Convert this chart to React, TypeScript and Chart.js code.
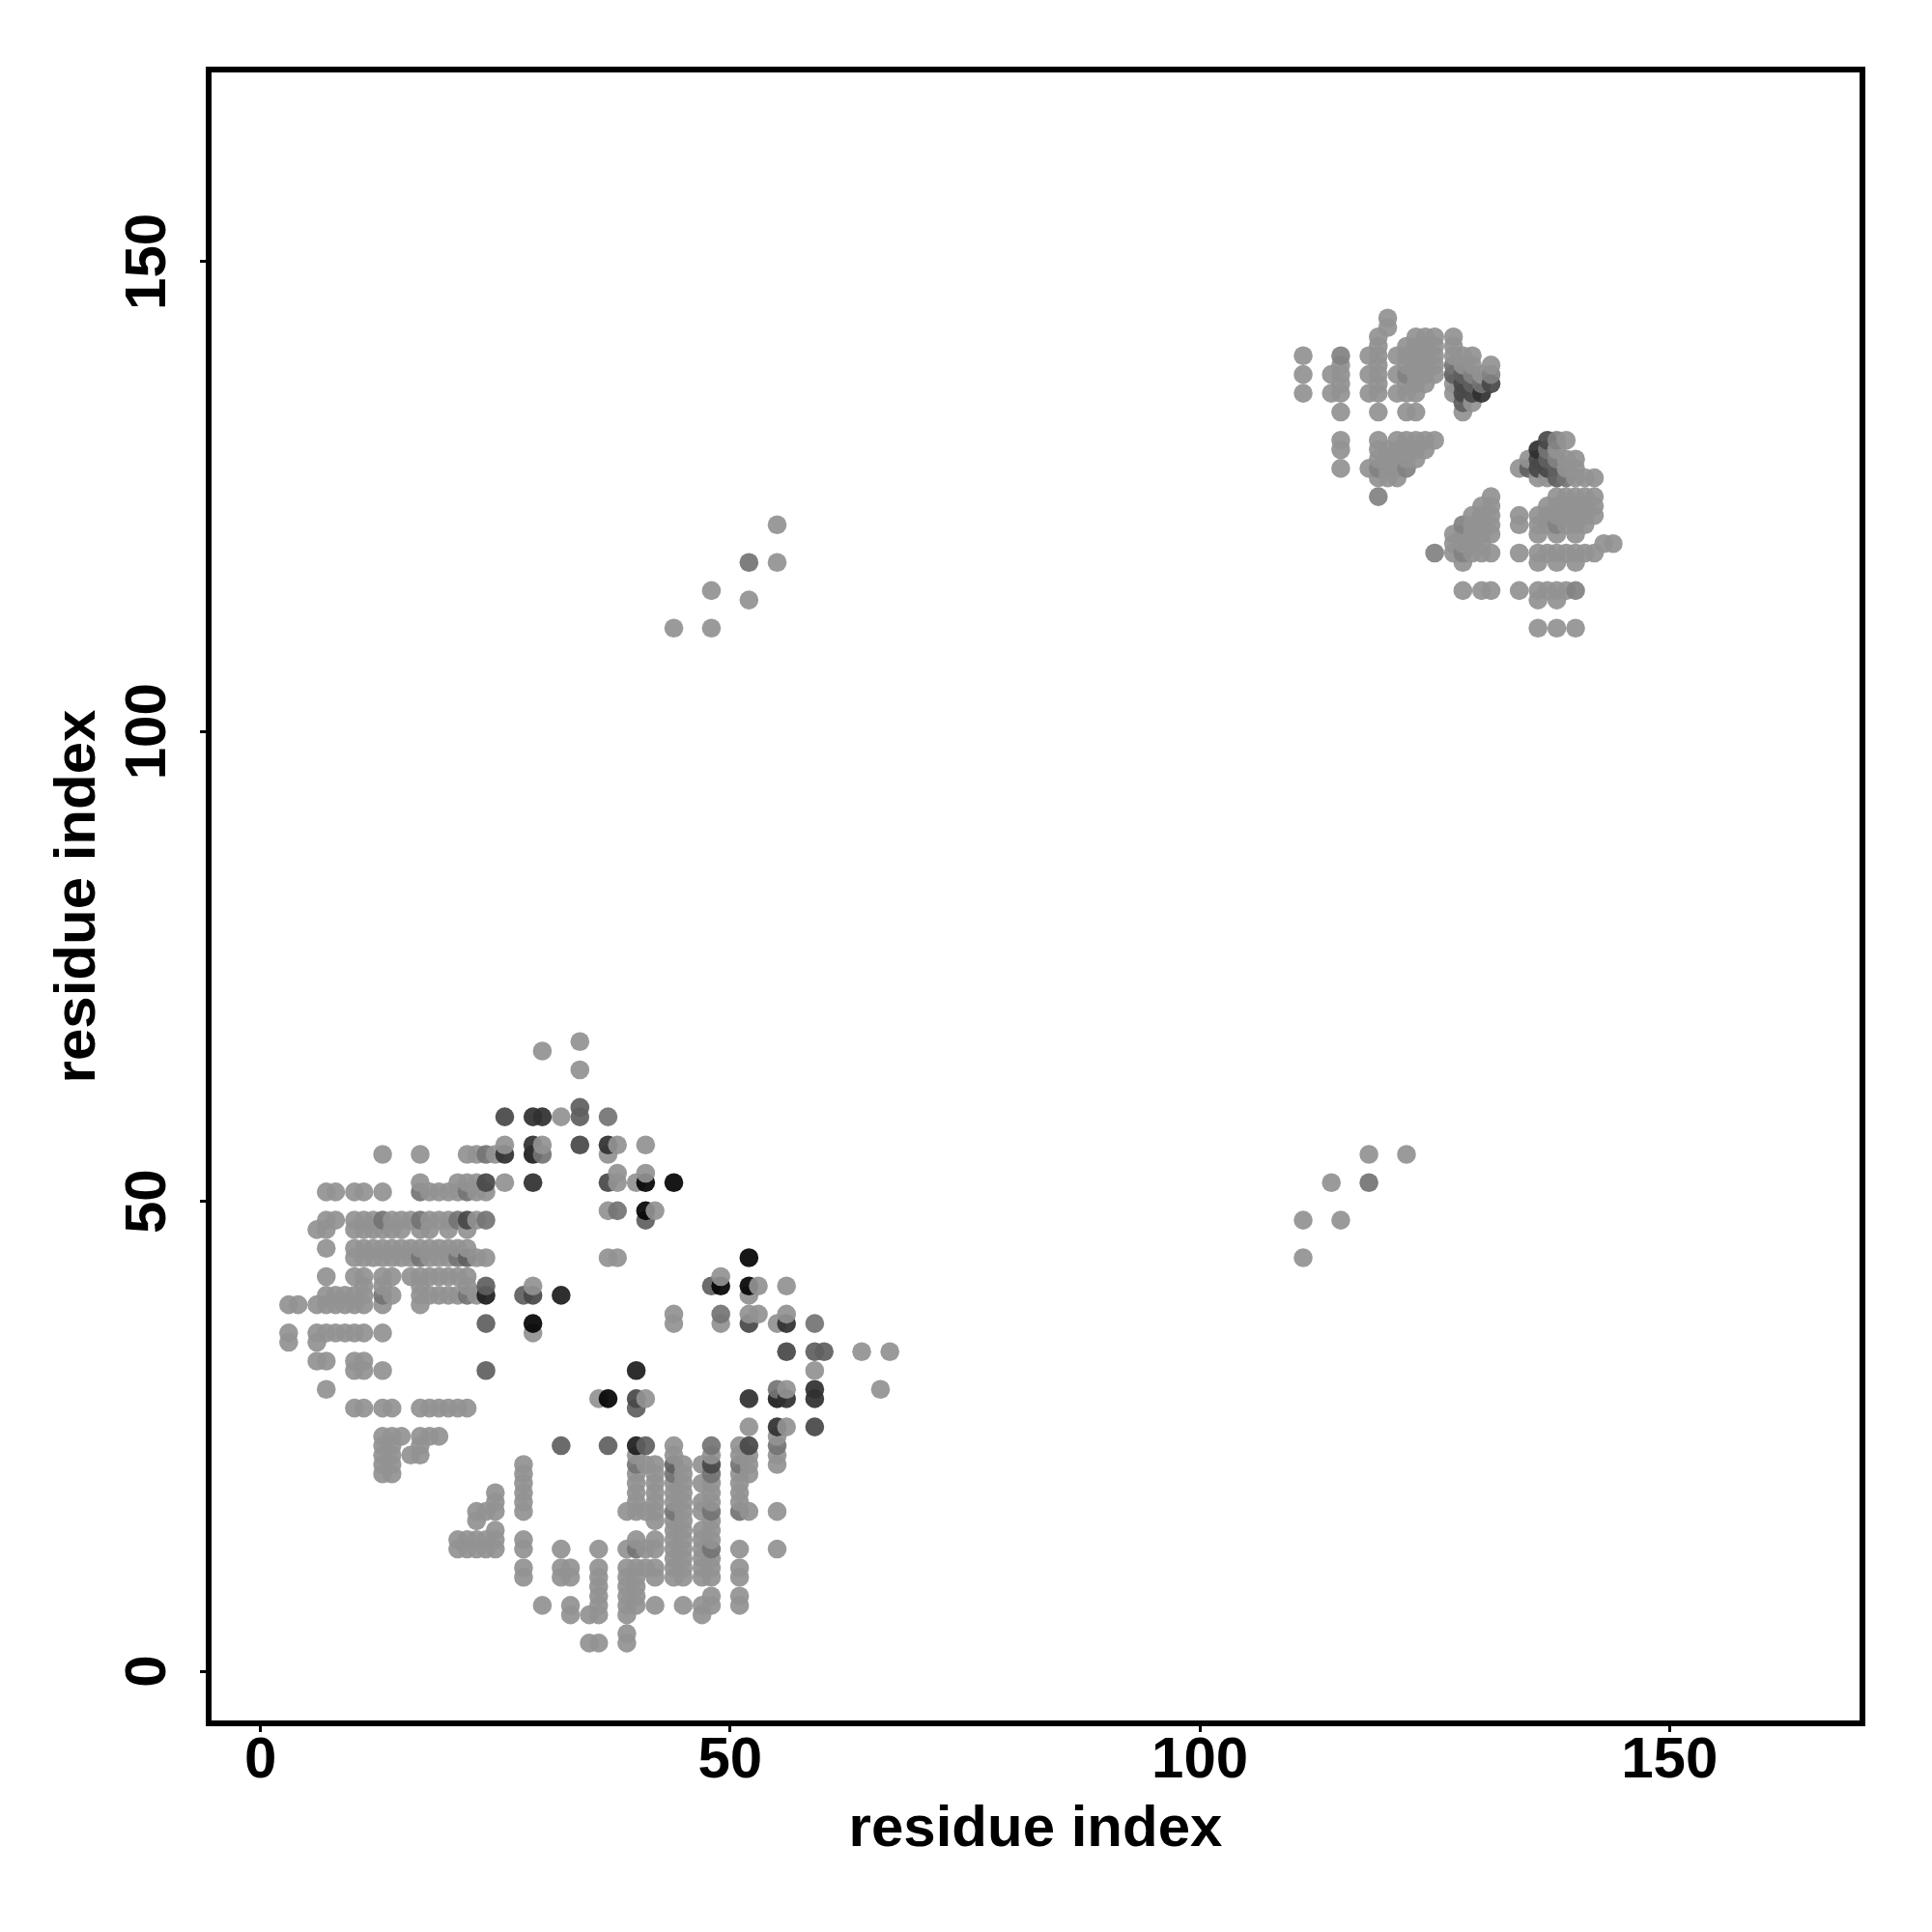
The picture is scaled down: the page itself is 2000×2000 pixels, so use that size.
import React, { useEffect, useRef } from "react";
import { Chart, registerables } from "chart.js";

Chart.register(...registerables);

// Symmetric contact map: each column [b, [a...]] lists residues a < b in contact with b.
const nearColumns: [number, number[]][] = [
  [21, [13, 14]], [22, [13, 14]], [23, [13, 14, 16, 17]], [24, [13, 14, 17]],
  [25, [13, 14, 15, 17, 18, 19]],
  [28, [10, 11, 13, 14, 17, 18, 19, 20, 21, 22]],
  [30, [7]], [32, [10, 11, 13, 24]], [33, [6, 7, 10, 11]], [35, [3, 6]],
  [36, [3, 6, 7, 8, 9, 10, 11, 13, 29]], [37, [24, 29]],
  [39, [3, 4, 6, 7, 8, 9, 10, 11, 13, 17]],
  [40, [7, 8, 9, 10, 11, 13, 14, 17, 18, 19, 20, 21, 22, 23, 24, 28, 29, 32]],
  [41, [11, 13, 17, 22, 24, 29]],
  [42, [7, 10, 11, 13, 14, 16, 17, 18, 19, 20, 21, 22]],
  [44, [10, 11, 12, 13, 14, 15, 16, 17, 18, 19, 20, 21, 22, 23, 24, 37, 38]],
  [45, [7, 10, 11, 12, 13, 14, 15, 16, 17, 18, 19, 20, 21, 22]],
  [47, [6, 7, 10, 11, 12, 13, 14, 15, 17, 18, 20, 22]],
  [48, [7, 8, 10, 11, 12, 13, 14, 15, 16, 17, 18, 19, 20, 21, 22, 23, 24, 41]],
  [49, [37, 38, 41, 42]],
  [51, [7, 8, 10, 11, 13, 17, 18, 19, 20, 21, 22, 23, 24]],
  [52, [17, 21, 22, 23, 24, 26, 29, 37, 38, 40, 41, 44]],
  [53, [38, 41]],
  [55, [13, 17, 22, 23, 24, 25, 26, 29, 30, 37]],
  [56, [26, 29, 30, 34, 37, 38, 41]],
  [59, [26, 29, 30, 32, 34, 37]],
  [60, [34]], [64, [34]], [66, [30]], [67, [34]],
];
const bridgeColumns: [number, number[]][] = [
  [44, [111]], [48, [111, 115]], [52, [114, 118]], [55, [118, 122]],
];
const farColumns: [number, number[]][] = [
  [111, [136, 138, 140]],
  [114, [136, 138]],
  [115, [128, 130, 131, 134, 136, 137, 138, 139, 140]],
  [118, [128, 136, 138, 140]],
  [119, [125, 127, 128, 129, 130, 131, 134, 136, 137, 138, 139, 140, 141, 142]],
  [120, [127, 128, 129, 130, 143, 144]],
  [121, [127, 128, 129, 130, 131, 136, 138, 140]],
  [122, [128, 129, 130, 131, 134, 136, 137, 138, 139, 140, 141]],
  [123, [129, 130, 131, 134, 136, 137, 138, 139, 140, 141, 142]],
  [124, [130, 131, 137, 138, 139, 140, 141, 142]],
  [125, [131, 138, 139, 140, 141, 142]],
  [127, [136, 137, 138, 139, 140, 141, 142]],
  [128, [134, 135, 136, 137, 138, 139, 140]],
  [129, [135, 136, 137, 138, 139, 140]],
  [130, [136, 137, 138]],
  [131, [137, 138, 139]],
];

// Grey classes; pairs not listed take the base grey
const inkPairs = ["29-37", "41-49", "41-52", "44-52"];
const nearBlackPairs = ["29-55", "32-40", "24-40"];
const darkPairs = ["26-55", "29-56", "29-52", "30-59", "29-59", "37-56", "130-136"];
const dimPairs = ["34-56", "37-52", "24-52", "29-40", "26-59", "22-48", "131-137", "128-136", "128-137", "129-136"];
const midPairs = ["34-59", "34-60", "41-48", "24-37", "24-32", "24-41", "28-40", "22-44", "128-138", "129-137", "127-138", "128-135"];
const softPairs = ["24-48", "24-55", "37-59", "30-55", "38-49", "13-40", "13-48", "21-48", "17-48", "22-40", "22-51", "17-51", "52-118", "21-44", "17-44", "130-137", "127-139"];
const faintPairs = ["115-140", "119-128", "122-128", "119-125", "122-138", "129-138", "131-138"];

const greyClasses = [inkPairs, nearBlackPairs, darkPairs, dimPairs, midPairs, softPairs, faintPairs];
const classGreys = [5, 30, 48, 72, 96, 116, 130];
const baseGrey = 146;
const tickValues = [0, 50, 100, 150];
const axisTitle = "residue index";
const FONT = '"Liberation Sans", Arial, sans-serif';

function greyOf(key: string): number {
  const found = greyClasses.findIndex((list) => list.includes(key));
  return found < 0 ? baseGrey : classGreys[found];
}

// Painted by ascending x, then ascending y, like the nested loop behind the original
function buildPoints() {
  const seen = new Set<string>();
  const pts: { x: number; y: number; g: number }[] = [];
  for (const cols of [nearColumns, bridgeColumns, farColumns]) {
    for (const [b, list] of cols) {
      for (const a of list) {
        const lo = Math.min(a, b);
        const hi = Math.max(a, b);
        const key = `${lo}-${hi}`;
        if (seen.has(key)) continue;
        seen.add(key);
        const g = greyOf(key);
        pts.push({ x: lo, y: hi, g }, { x: hi, y: lo, g });
      }
    }
  }
  pts.sort((p, q) => p.x - q.x || p.y - q.y);
  return pts;
}

const framePlugin = {
  id: "frameAndRotatedTicks",
  afterDraw(chart: any) {
    const { ctx, chartArea: a, scales } = chart;
    ctx.save();
    ctx.strokeStyle = "#000";
    ctx.lineWidth = 6;
    ctx.lineJoin = "miter";
    ctx.strokeRect(a.left, a.top, a.right - a.left, a.bottom - a.top);
    ctx.fillStyle = "#000";
    ctx.font = `bold 60px ${FONT}`;
    ctx.textAlign = "center";
    ctx.textBaseline = "alphabetic";
    for (const v of tickValues) {
      ctx.save();
      ctx.translate(171, scales.y.getPixelForValue(v));
      ctx.rotate(-Math.PI / 2);
      ctx.fillText(String(v), 0, 0);
      ctx.restore();
    }
    ctx.restore();
  },
};

export default function App() {
  const ref = useRef<HTMLCanvasElement>(null);
  useEffect(() => {
    const points = buildPoints();
    const chart = new Chart(ref.current!, {
      type: "scatter",
      data: {
        datasets: [
          {
            data: points.map((p) => ({ x: p.x, y: p.y })),
            backgroundColor: points.map((p) => `rgba(${p.g},${p.g},${p.g},0.93)`),
            borderWidth: 0,
            pointRadius: 9.8,
          },
        ],
      },
      options: {
        animation: false,
        responsive: false,
        devicePixelRatio: 1,
        layout: { padding: { left: 0, top: 72, right: 72, bottom: 0 } },
        plugins: { legend: { display: false }, tooltip: { enabled: false } },
        scales: {
          x: {
            type: "linear",
            min: -5.52,
            max: 170.54,
            afterBuildTicks: (s: any) => { s.ticks = tickValues.map((value) => ({ value })); },
            afterFit: (s: any) => { s.height = 216; },
            grid: { drawOnChartArea: false, drawTicks: true, tickLength: 9, tickWidth: 3, tickColor: "#000" },
            border: { display: false },
            ticks: { color: "#000", font: { family: FONT, size: 60, weight: "bold" }, padding: -6, maxRotation: 0, autoSkip: false },
            title: { display: true, text: axisTitle, color: "#000", font: { family: FONT, size: 60, weight: "bold" }, padding: { top: 0, bottom: 70 } },
          },
          y: {
            type: "linear",
            min: -5.55,
            max: 170.45,
            afterBuildTicks: (s: any) => { s.ticks = tickValues.map((value) => ({ value })); },
            afterFit: (s: any) => { s.width = 216; },
            grid: { drawOnChartArea: false, drawTicks: true, tickLength: 9, tickWidth: 3, tickColor: "#000" },
            border: { display: false },
            ticks: { display: false },
            title: { display: true, text: axisTitle, color: "#000", font: { family: FONT, size: 60, weight: "bold" }, padding: { top: 45, bottom: 0 } },
          },
        },
      } as any,
      plugins: [framePlugin],
    });
    return () => chart.destroy();
  }, []);
  return (
    <div style={{ position: "absolute", left: 0, top: 0, width: 2000, height: 2000, background: "#fff" }}>
      <canvas ref={ref} width={2000} height={2000} style={{ display: "block" }} />
    </div>
  );
}
